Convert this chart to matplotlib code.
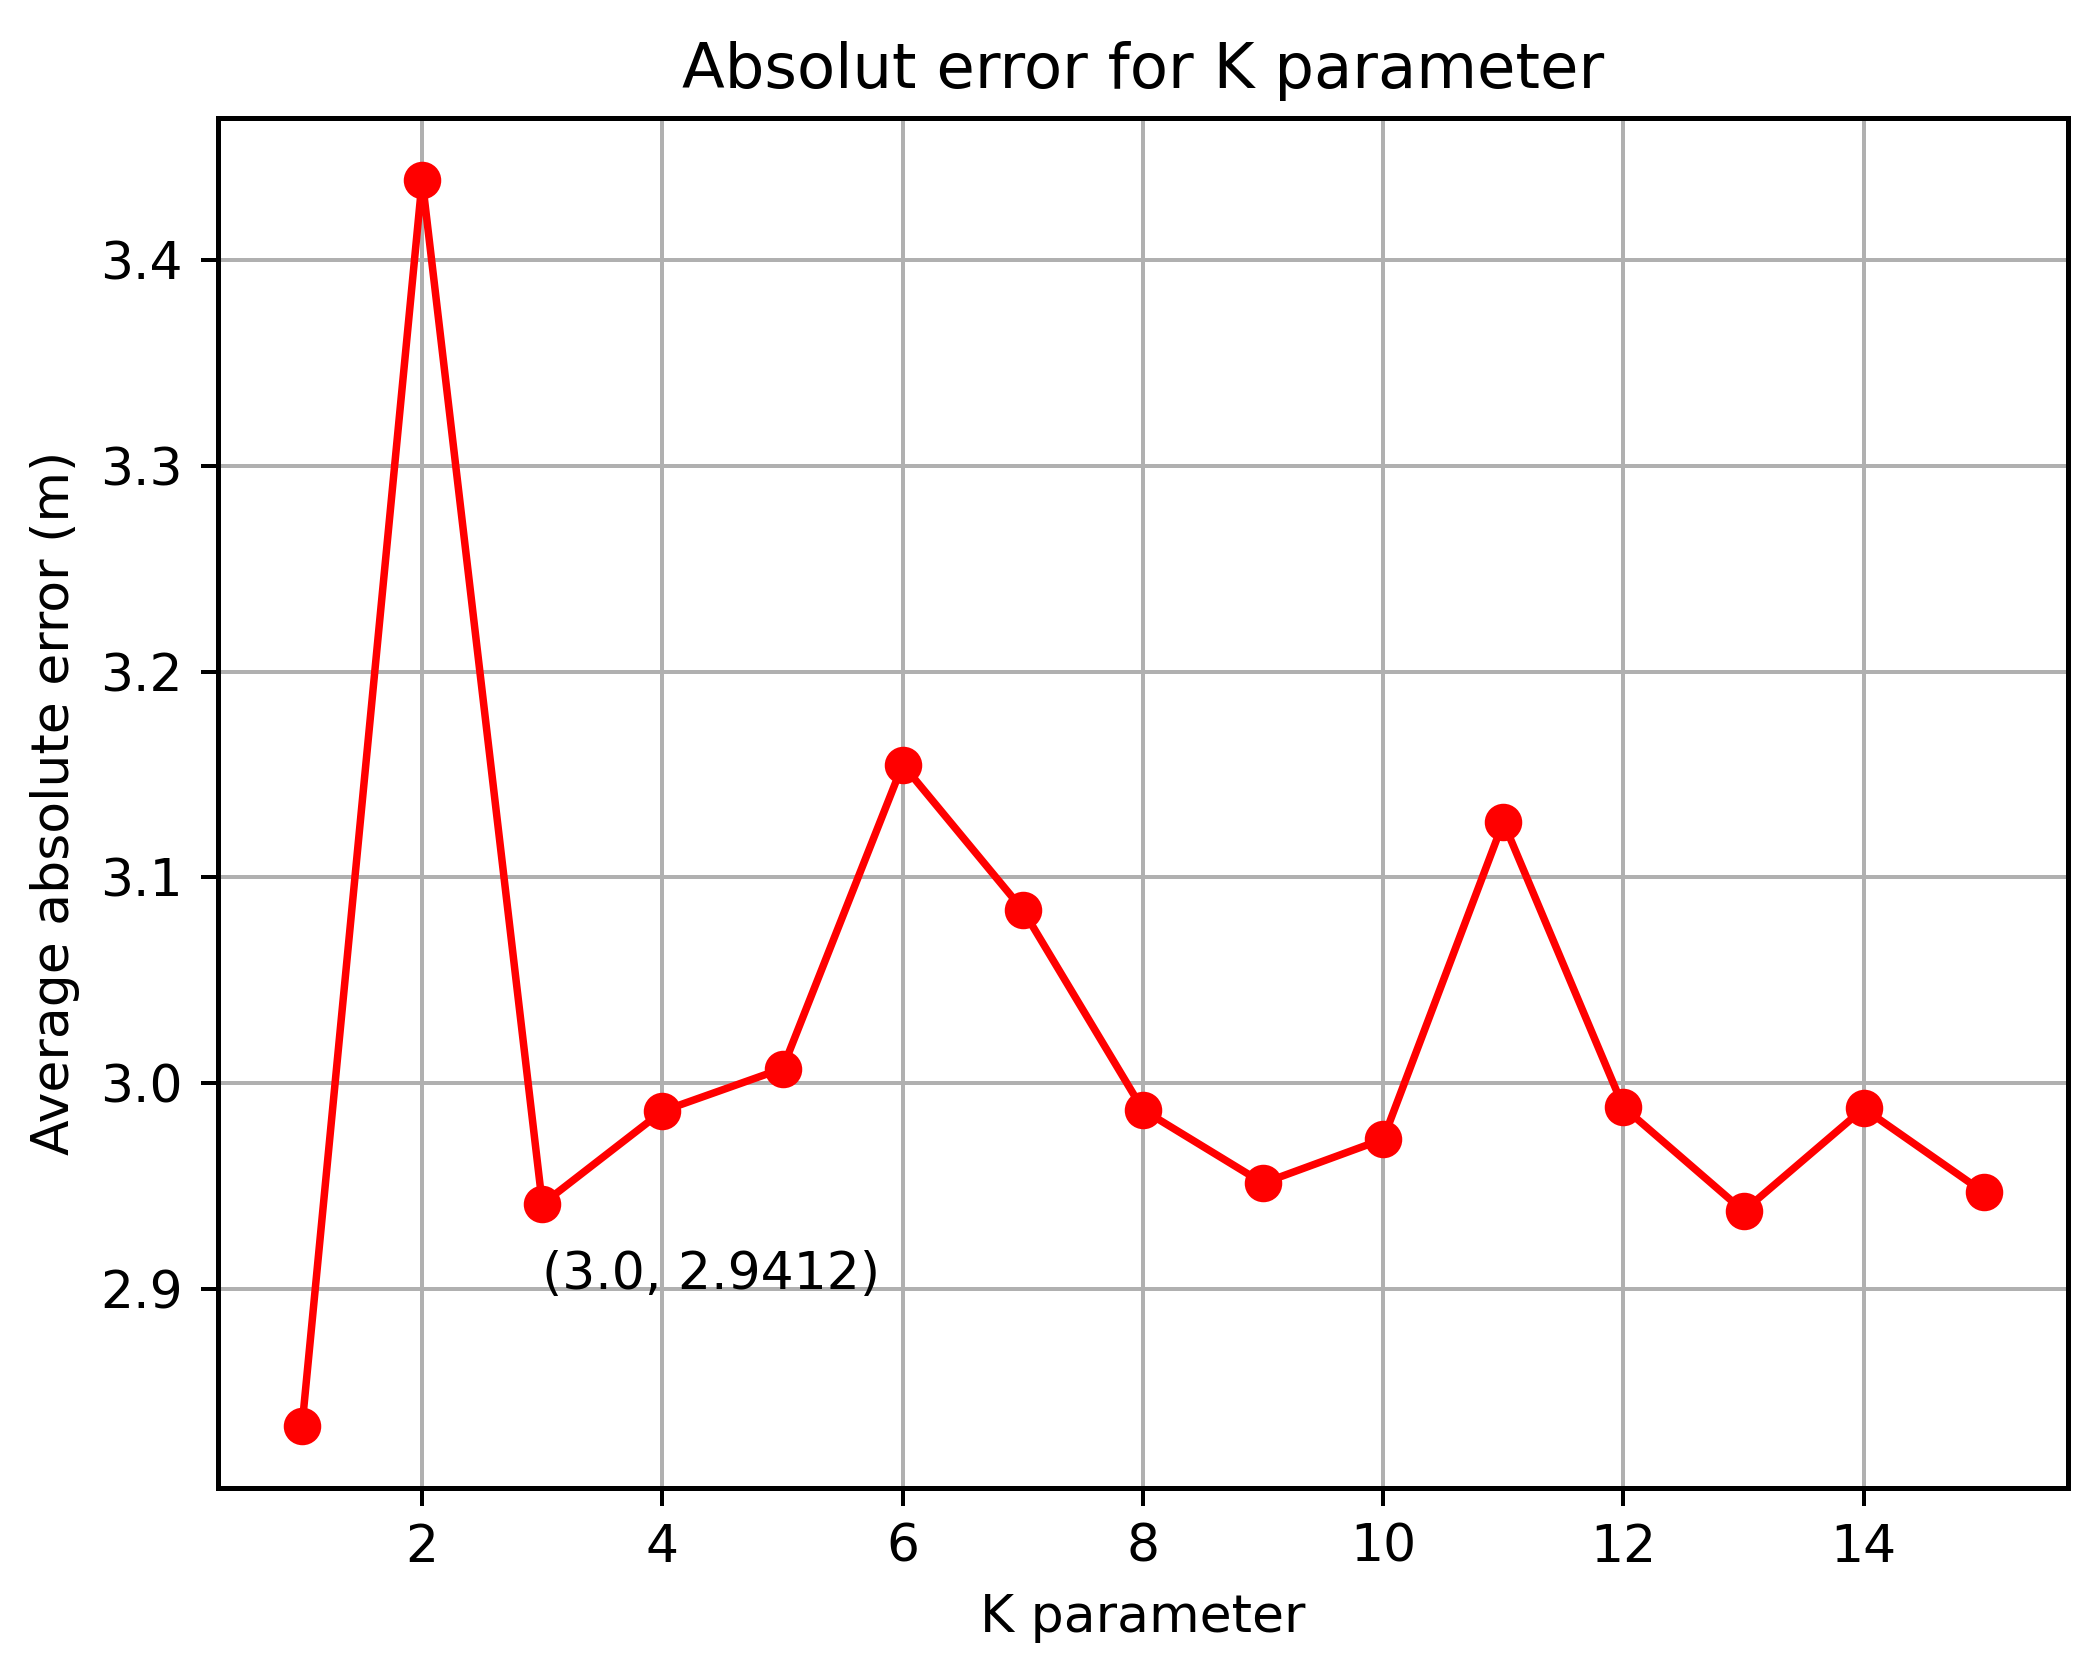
#!/usr/bin/env python3
import matplotlib
matplotlib.use('Agg')
import matplotlib.pyplot as plt

# K parameter values and average absolute errors (m)
k_values = [1, 2, 3, 4, 5, 6, 7, 8, 9, 10, 11, 12, 13, 14, 15]
avg_errors = [2.8336, 3.4389, 2.9412, 2.9864, 3.0071, 3.1548, 3.0842, 2.9870,
              2.9514, 2.9728, 3.1269, 2.9883, 2.9378, 2.9877, 2.9469]

best_k = 3.0
best_err = 2.9412
label_text = f'({best_k}, {best_err})'

plt.rcParams['font.size'] = 10.4
plt.rcParams['axes.titlesize'] = 12.5
plt.rcParams['axes.linewidth'] = 1.0

dpi = 360
fig = plt.figure(figsize=(2096 / dpi, 1668 / dpi), dpi=dpi)
ax = fig.add_axes([0.104, 0.108, 0.8826, 0.8215])

ax.plot(k_values, avg_errors, color='red', marker='o', linewidth=1.5, markersize=6.5)
ax.annotate(label_text, xy=(best_k, best_err), xytext=(best_k, 2.9))

ax.set_title('Absolut error for K parameter')
ax.set_xlabel('K parameter')
ax.set_ylabel('Average absolute error (m)')
ax.grid(True)

fig.savefig('out.png', dpi=dpi)
